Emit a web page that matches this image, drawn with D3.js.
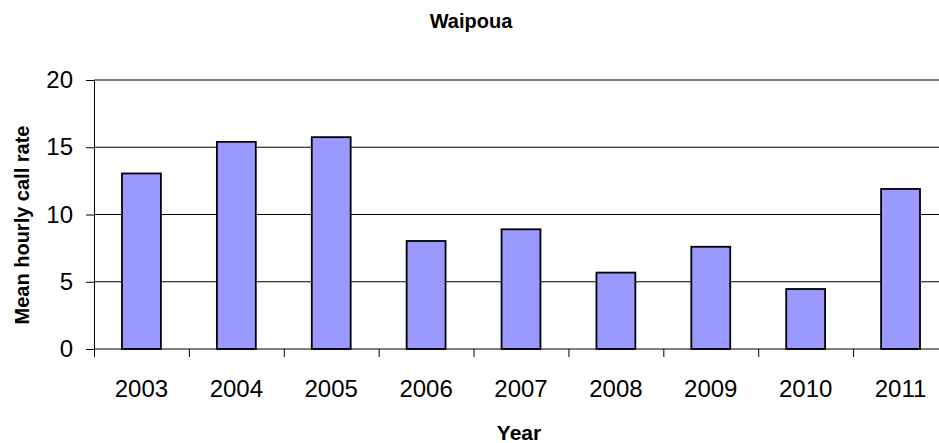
<!DOCTYPE html>
<html>
<head>
<meta charset="utf-8">
<script src="https://cdn.jsdelivr.net/npm/d3@7"></script>
<style>
  body { margin: 0; background: #fff; }
  text { font-family: "Liberation Sans", Arial, sans-serif; }
</style>
</head>
<body>
<div id="chart"></div>
<script>
const years = ["2003", "2004", "2005", "2006", "2007", "2008", "2009", "2010", "2011"];
const callRates = [13.05, 15.4, 15.75, 8.03, 8.9, 5.68, 7.6, 4.46, 11.9];
const yTicks = [0, 5, 10, 15, 20];

const width = 939, height = 443;
const margin = {left: 94, top: 80, right: -9, bottom: 94};

const svg = d3.select("#chart")
              .append("svg")
              .attr("width", width)
              .attr("height", height);

const x = d3.scaleBand()
            .domain(years)
            .range([margin.left, width - margin.right])
            .paddingInner(0)
            .paddingOuter(0);

const y = d3.scaleLinear()
            .domain([0, 20])
            .range([height - margin.bottom, margin.top]);

// gridlines
svg.append("g")
   .selectAll("line")
   .data(yTicks.filter(function(d) { return d > 0; }))
   .enter()
   .append("line")
   .attr("x1", margin.left)
   .attr("x2", width)
   .attr("y1", function(d) { return y(d); })
   .attr("y2", function(d) { return y(d); })
   .attr("stroke", "#000")
   .attr("stroke-width", 1);

// bars
svg.append("g")
   .selectAll("rect")
   .data(years)
   .enter()
   .append("rect")
   .attr("x", function(d) { return x(d) + x.bandwidth() * 0.295; })
   .attr("width", x.bandwidth() * 0.41)
   .attr("y", function(d, i) { return y(callRates[i]); })
   .attr("height", function(d, i) { return y(0) - y(callRates[i]); })
   .attr("fill", "#9999ff")
   .attr("stroke", "#000")
   .attr("stroke-width", 1.8);

// y axis
const yAxis = svg.append("g")
                 .attr("transform", "translate(" + margin.left + ",0)")
                 .call(d3.axisLeft(y).tickValues(yTicks).tickSize(8).tickPadding(13));
yAxis.select(".domain").attr("stroke", "#000");
yAxis.selectAll("text")
     .attr("fill", "#000")
     .style("font-size", "24px")
     .style("font-family", "Liberation Sans, Arial, sans-serif");

// x axis
const xAxis = svg.append("g")
                 .attr("transform", "translate(0," + y(0) + ")");
xAxis.append("line")
     .attr("x1", margin.left)
     .attr("x2", width)
     .attr("stroke", "#000")
     .attr("stroke-width", 1);
xAxis.selectAll(".tk")
     .data(years)
     .enter()
     .append("line")
     .attr("class", "tk")
     .attr("x1", function(d) { return x(d) + 0.5; })
     .attr("x2", function(d) { return x(d) + 0.5; })
     .attr("y1", 0)
     .attr("y2", 8)
     .attr("stroke", "#000");
xAxis.selectAll("text")
     .data(years)
     .enter()
     .append("text")
     .attr("x", function(d) { return x(d) + x.bandwidth() / 2; })
     .attr("y", 48)
     .attr("text-anchor", "middle")
     .style("font-size", "24px")
     .text(function(d) { return d; });

// titles
svg.append("text")
   .attr("x", 471)
   .attr("y", 28)
   .attr("text-anchor", "middle")
   .style("font-size", "20px")
   .attr("font-weight", "bold")
   .text("Waipoua");

svg.append("text")
   .attr("x", 519)
   .attr("y", 440)
   .attr("text-anchor", "middle")
   .style("font-size", "21px")
   .attr("font-weight", "bold")
   .text("Year");

svg.append("text")
   .attr("transform", "translate(29,225) rotate(-90)")
   .attr("text-anchor", "middle")
   .style("font-size", "20px")
   .attr("font-weight", "bold")
   .text("Mean hourly call rate");
</script>
</body>
</html>
